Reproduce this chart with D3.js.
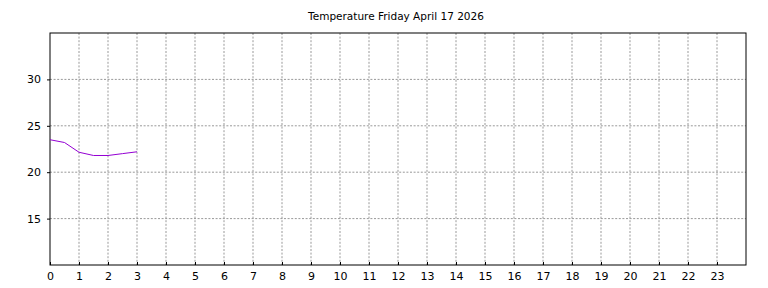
<!DOCTYPE html>
<html>
<head>
<script src="https://d3js.org/d3.v7.min.js"></script>
<style>
  body { margin: 0; background: #fff; }
  text { font-family: "DejaVu Sans", sans-serif; }
</style>
</head>
<body>
<script>
const title = "Temperature Friday April 17 2026";
const hours = [0, 0.5, 1, 1.5, 2, 2.5, 3];
const temps = [23.5, 23.2, 22.15, 21.8, 21.8, 22.0, 22.2];
const xTicks = d3.range(0, 24);
const yTicks = [15, 20, 25, 30];

const margin = {top: 33, right: 22, bottom: 23, left: 50};
const W = 768, H = 288;
const width = W - margin.left - margin.right;
const height = H - margin.top - margin.bottom;

const svg = d3.select("body").append("svg")
  .attr("width", W).attr("height", H);
const g = svg.append("g")
  .attr("transform", "translate(" + margin.left + "," + margin.top + ")");

const x = d3.scaleLinear().domain([0, 24]).range([0, width]);
const y = d3.scaleLinear().domain([10, 35]).range([height, 0]);

// grid
g.append("g").selectAll("line").data(xTicks.slice(1)).join("line")
  .attr("x1", d => x(d)).attr("x2", d => x(d))
  .attr("y1", 0).attr("y2", height)
  .attr("stroke", "#999").attr("stroke-dasharray", "2,1.6");
g.append("g").selectAll("line").data(yTicks).join("line")
  .attr("x1", 0).attr("x2", width)
  .attr("y1", d => y(d)).attr("y2", d => y(d))
  .attr("stroke", "#999").attr("stroke-dasharray", "2,1.6");

// axes
const xa = g.append("g").attr("transform", "translate(0," + height + ")")
  .call(d3.axisBottom(x).tickValues(xTicks).tickSize(-3).tickPadding(7).tickFormat(d3.format("d")));
const ya = g.append("g")
  .call(d3.axisLeft(y).tickValues(yTicks).tickSize(3).tickPadding(6));
[xa, ya].forEach(a => {
  a.select(".domain").remove();
  a.selectAll("text").attr("font-size", 11).attr("fill", "#000").attr("font-family", "DejaVu Sans");
  a.selectAll("line").attr("stroke", "#000");
});

g.append("rect").attr("x", 0).attr("y", 0).attr("width", width).attr("height", height)
  .attr("fill", "none").attr("stroke", "#000").attr("stroke-width", 1);

g.append("path").datum(hours)
  .attr("fill", "none").attr("stroke", "#9400d3").attr("stroke-width", 1)
  .attr("d", d3.line().x(d => x(d)).y((d, i) => y(temps[i])));

svg.append("text").text(title)
  .attr("x", margin.left + width / 2 - 2).attr("y", 20)
  .attr("text-anchor", "middle").attr("font-size", 10.5);
</script>
</body>
</html>
